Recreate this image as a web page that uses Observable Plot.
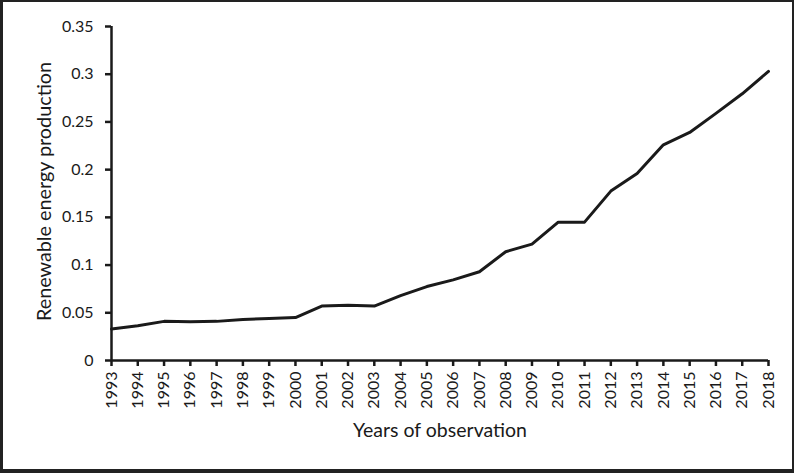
<!DOCTYPE html>
<html>
<head>
<meta charset="utf-8">
<script src="https://cdn.jsdelivr.net/npm/d3@7"></script>
<script src="https://cdn.jsdelivr.net/npm/@observablehq/plot@0.6"></script>
<style>
  html, body { margin: 0; padding: 0; background: #fff; }
  #wrap { position: relative; width: 794px; height: 473px; overflow: hidden; }
  #frame { position: absolute; left: 0; top: 0; width: 794px; height: 473px; box-sizing: border-box;
           border: 2px solid #222; border-left-width: 3px; border-bottom-width: 4px; pointer-events: none; }
  #wrap svg g[aria-label$="tick label"] { font-size: 16px; }
  #wrap svg g[aria-label$="tick"] { stroke-width: 2.5px; }
</style>
</head>
<body>
<div id="wrap"><div id="frame"></div></div>
<script>
const years = [1993,1994,1995,1996,1997,1998,1999,2000,2001,2002,2003,2004,2005,2006,2007,2008,2009,2010,2011,2012,2013,2014,2015,2016,2017,2018];
const production = [0.033,0.0365,0.041,0.0405,0.041,0.043,0.044,0.045,0.057,0.058,0.057,0.068,0.0775,0.0845,0.093,0.114,0.122,0.145,0.145,0.1775,0.196,0.226,0.239,0.259,0.2795,0.303];
const yTicks = [0,0.05,0.1,0.15,0.2,0.25,0.3,0.35];
const xLabel = "Years of observation";
const yLabel = "Renewable energy production";

const data = years.map((y, i) => ({year: y, value: production[i]}));

const chart = Plot.plot({
  width: 794,
  height: 473,
  marginLeft: 111,
  marginRight: 26,
  marginTop: 26,
  marginBottom: 113,
  style: {fontFamily: "Lato, sans-serif", fontSize: "16px", color: "#1a1a1a", background: "transparent"},
  x: {domain: [1993, 2018], label: null},
  y: {domain: [0, 0.35], label: null},
  marks: [
    Plot.axisY({ticks: yTicks, tickSize: 6, tickPadding: 12, tickFormat: d => String(+d.toFixed(2)), fill: "#1a1a1a", stroke: "#1a1a1a"}),
    Plot.axisX({ticks: years, tickSize: 6, tickPadding: 5, tickRotate: -90, tickFormat: d => String(d), fill: "#1a1a1a", stroke: "#1a1a1a"}),
    Plot.ruleY([0], {stroke: "#1a1a1a", strokeWidth: 2.5}),
    Plot.ruleX([1993], {stroke: "#1a1a1a", strokeWidth: 2.5}),
    Plot.line(data, {x: "year", y: "value", stroke: "#1a1a1a", strokeWidth: 3}),
    Plot.text([xLabel], {frameAnchor: "bottom", dy: 76, fontSize: 19.5, fill: "#1a1a1a"}),
    Plot.text([yLabel], {frameAnchor: "left", textAnchor: "middle", dx: -67, dy: -2, rotate: -90, fontSize: 19.8, fill: "#1a1a1a"})
  ]
});
document.getElementById("wrap").prepend(chart);
</script>
</body>
</html>
